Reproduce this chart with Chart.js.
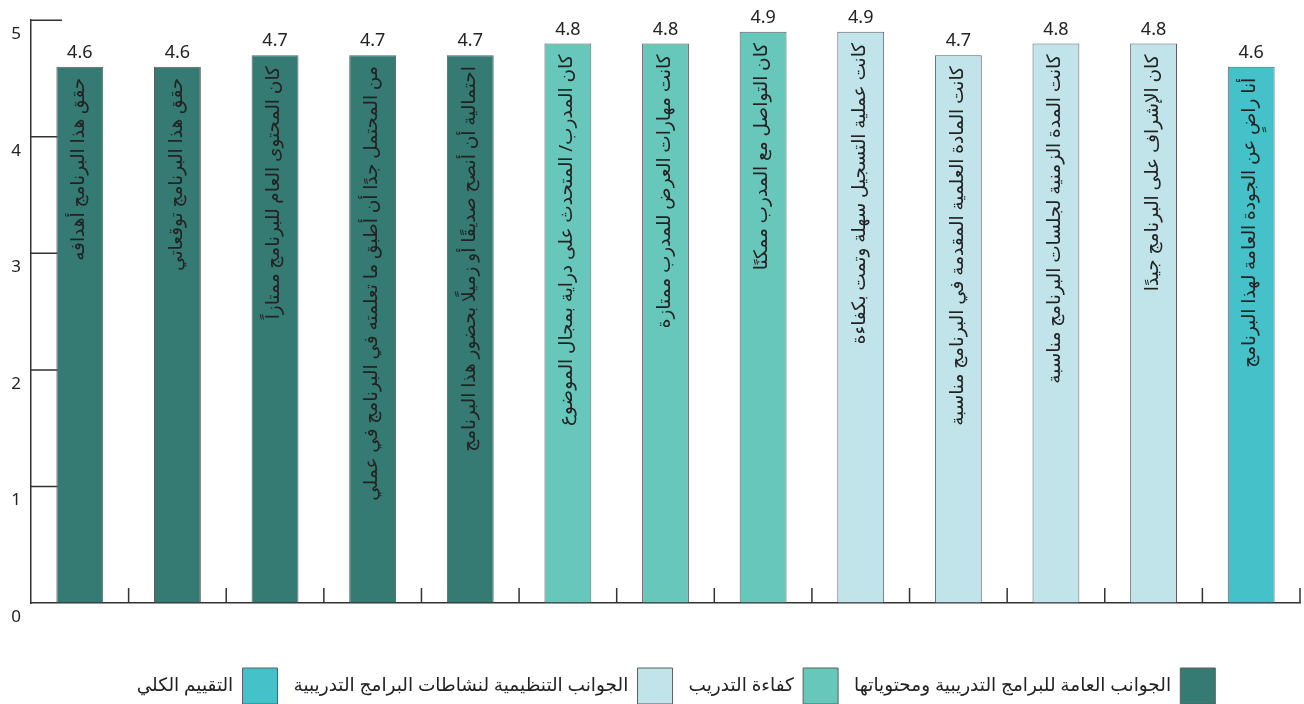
<!DOCTYPE html>
<html lang="ar">
<head>
<meta charset="utf-8">
<title>تقييم البرنامج</title>
<script src="https://cdn.jsdelivr.net/npm/chart.js@4/dist/chart.umd.min.js"></script>
<style>
  html, body { margin: 0; padding: 0; background: #fff; }
  #wrap { width: 1304px; height: 704px; }
</style>
</head>
<body>
<div id="wrap"><canvas id="myChart" width="1304" height="704"></canvas></div>
<script>
var categories = [
    'حقق هذا البرنامج أهدافه',
    'حقق هذا البرنامج توقعاتي',
    'كان المحتوى العام للبرنامج ممتازاً',
    'من المحتمل جدًا أن أطبق ما تعلمته في البرنامج في عملي',
    'احتمالية أن أنصح صديقًا أو زميلًا بحضور هذا البرنامج',
    'كان المدرب/ المتحدث على دراية بمجال الموضوع',
    'كانت مهارات العرض للمدرب ممتازة',
    'كان التواصل مع المدرب ممكنًا',
    'كانت عملية التسجيل سهلة وتمت بكفاءة',
    'كانت المادة العلمية المقدمة في البرنامج مناسبة',
    'كانت المدة الزمنية لجلسات البرنامج مناسبة',
    'كان الإشراف على البرنامج جيدًا',
    'أنا راضٍ عن الجودة العامة لهذا البرنامج'
];
var scores = [4.6, 4.6, 4.7, 4.7, 4.7, 4.8, 4.8, 4.9, 4.9, 4.7, 4.8, 4.8, 4.6];
// which group each bar belongs to (index into groupNames)
var groupOf = [0, 0, 0, 0, 0, 1, 1, 1, 2, 2, 2, 2, 3];
var groupNames = [
    'الجوانب العامة للبرامج التدريبية ومحتوياتها',
    'كفاءة التدريب',
    'الجوانب التنظيمية لنشاطات البرامج التدريبية',
    'التقييم الكلي'
];
var groupColors = ['#357a73', '#67c7bb', '#c0e4e9', '#45c1c9'];
var yTicks = [0, 1, 2, 3, 4, 5];

var FONT = "'Noto Sans', 'DejaVu Sans', sans-serif";

// short tick marks drawn inside the plot area
var innerTicks = {
    id: 'innerTicks',
    beforeDatasetsDraw: function (chart) {
        var ctx = chart.ctx, area = chart.chartArea;
        var xs = chart.scales.x, ys = chart.scales.y;
        ctx.save();
        ctx.strokeStyle = '#333';
        ctx.lineWidth = 1.5;
        ctx.beginPath();
        yTicks.forEach(function (v) {
            if (v === 0) return;
            var py = ys.getPixelForValue(v);
            ctx.moveTo(area.left, py);
            ctx.lineTo(area.left + 31, py);
        });
        for (var i = 1; i <= categories.length; i++) {
            var px = i < categories.length
                ? (xs.getPixelForValue(i - 1) + xs.getPixelForValue(i)) / 2
                : area.right;
            ctx.moveTo(px, area.bottom);
            ctx.lineTo(px, area.bottom - 15);
        }
        ctx.stroke();
        ctx.restore();
    }
};

// value on top of each bar and rotated category text inside it
var barTexts = {
    id: 'barTexts',
    afterDatasetsDraw: function (chart) {
        var ctx = chart.ctx;
        ctx.save();
        chart.data.datasets.forEach(function (ds, d) {
            var meta = chart.getDatasetMeta(d);
            meta.data.forEach(function (bar, i) {
                if (ds.data[i] === null) return;
                ctx.fillStyle = '#222';
                ctx.font = '18px ' + FONT;
                ctx.textAlign = 'center';
                ctx.textBaseline = 'bottom';
                ctx.direction = 'ltr';
                ctx.fillText(ds.data[i].toFixed(1), bar.x, bar.y - 5);

                ctx.save();
                ctx.translate(bar.x - 1, bar.y + 11);
                ctx.rotate(-Math.PI / 2);
                ctx.direction = 'rtl';
                ctx.textAlign = 'right';
                ctx.textBaseline = 'middle';
                ctx.font = '18.5px ' + FONT;
                ctx.fillText(categories[i], 0, 0);
                ctx.restore();
            });
        });
        ctx.restore();
    }
};

// legend sits a little right of centre in the original
var legendShift = {
    id: 'legendShift',
    afterLayout: function (chart) {
        chart.legend.left += 26;
        chart.legend.right += 26;
    }
};

var datasets = groupNames.map(function (name, g) {
    return {
        label: name,
        data: scores.map(function (s, i) { return groupOf[i] === g ? s : null; }),
        backgroundColor: groupColors[g],
        borderColor: '#5e5e5e',
        borderWidth: 1,
        grouped: false,
        barPercentage: 0.48,
        categoryPercentage: 1
    };
});

var ctx = document.getElementById('myChart').getContext('2d');
var chart = new Chart(ctx, {
    type: 'bar',
    data: {
        labels: categories,
        datasets: datasets
    },
    plugins: [innerTicks, barTexts, legendShift],
    options: {
        responsive: false,
        animation: false,
        devicePixelRatio: 1,
        layout: {
            padding: { top: 19, right: 4, left: 0, bottom: -10 }
        },
        scales: {
            x: {
                offset: true,
                grid: { display: true, offset: true, drawOnChartArea: false, drawTicks: false },
                border: { display: true, color: '#333', width: 1.5 },
                ticks: { display: false },
                afterFit: function (s) { s.height = 49; }
            },
            y: {
                min: 0,
                max: 5,
                grid: { display: true, drawOnChartArea: false, drawTicks: false },
                border: { display: true, color: '#333', width: 1.5 },
                ticks: {
                    stepSize: 1,
                    padding: 10,
                    labelOffset: 14,
                    color: '#222',
                    font: { size: 17, family: FONT }
                },
                afterFit: function (s) { s.width = 31; }
            }
        },
        plugins: {
            legend: {
                position: 'bottom',
                rtl: true,
                textDirection: 'rtl',
                labels: {
                    boxWidth: 35,
                    boxHeight: 36,
                    padding: 16,
                    color: '#222',
                    font: { size: 18.5, family: FONT }
                }
            },
            tooltip: { enabled: false }
        }
    }
});
</script>
</body>
</html>
